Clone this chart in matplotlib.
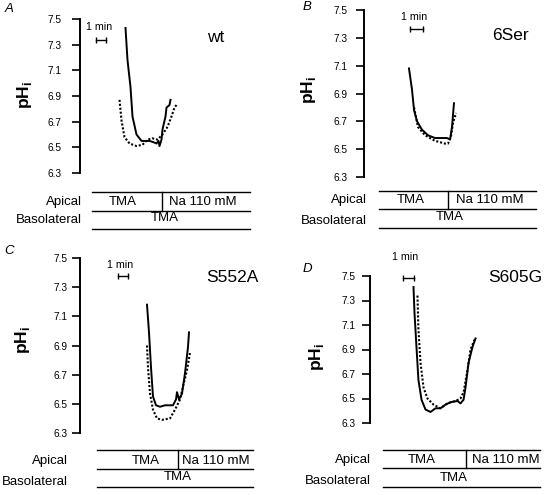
import matplotlib
matplotlib.use("Agg")
import matplotlib.pyplot as plt
from matplotlib.lines import Line2D

plt.rcParams['font.family'] = ['Liberation Sans', 'DejaVu Sans']
plt.rcParams['mathtext.fontset'] = 'custom'
plt.rcParams['mathtext.rm'] = 'Liberation Sans'
plt.rcParams['mathtext.bf'] = 'Liberation Sans:bold'

W, H = 546, 495

# ---------------- data (time in min, pHi) ----------------
panel_letters = ["A", "B", "C", "D"]
constructs = ["wt", "6Ser", "S552A", "S605G"]
yticks = [6.3, 6.5, 6.7, 6.9, 7.1, 7.3, 7.5]
ytick_labels = ["6.3", "6.5", "6.7", "6.9", "7.1", "7.3", "7.5"]
apical_solutions = ["TMA", "Na 110 mM"]
basolateral_solution = "TMA"
row_labels = ["Apical", "Basolateral"]
scale_label = "1 min"

wt_solid_t = [4.6, 4.8, 5.1, 5.3, 5.7, 6.2, 7.0, 7.4, 7.7, 7.9, 8.0, 8.2, 8.3, 8.6, 8.7, 9.0, 9.1]
wt_solid_ph = [7.43, 7.18, 6.97, 6.74, 6.60, 6.55, 6.55, 6.54, 6.53, 6.55, 6.51, 6.56, 6.64, 6.74, 6.81, 6.83, 6.87]
wt_dash_t = [4.0, 4.2, 4.5, 5.0, 5.7, 6.3, 6.8, 7.3, 7.8, 8.3, 8.8, 9.2, 9.5, 9.7]
wt_dash_ph = [6.87, 6.71, 6.58, 6.53, 6.51, 6.52, 6.56, 6.57, 6.56, 6.60, 6.66, 6.74, 6.81, 6.83]

ser_solid_t = [3.46, 3.69, 3.85, 4.08, 4.46, 4.92, 5.46, 6.38, 6.62, 6.77, 6.92]
ser_solid_ph = [7.08, 6.93, 6.78, 6.70, 6.64, 6.60, 6.58, 6.58, 6.57, 6.66, 6.83]
ser_dash_t = [3.85, 4.15, 4.69, 5.46, 6.23, 6.46, 6.69, 6.85, 7.08]
ser_dash_ph = [6.80, 6.66, 6.60, 6.56, 6.54, 6.54, 6.59, 6.69, 6.76]

s552_solid_t = [6.7, 6.9, 7.1, 7.3, 7.6, 8.0, 8.5, 9.3, 9.6, 9.7, 9.9, 10.2, 10.5, 10.8, 10.9]
s552_solid_ph = [7.18, 6.99, 6.75, 6.55, 6.49, 6.48, 6.49, 6.49, 6.53, 6.58, 6.53, 6.57, 6.71, 6.89, 6.99]
s552_dash_t = [6.7, 6.8, 7.0, 7.3, 7.7, 8.2, 9.0, 9.5, 10.0, 10.3, 10.7, 11.0]
s552_dash_ph = [6.90, 6.75, 6.57, 6.46, 6.40, 6.39, 6.40, 6.46, 6.53, 6.62, 6.73, 6.85]

s605_solid_t = [4.0, 4.09, 4.27, 4.45, 4.73, 5.09, 5.55, 6.0, 6.45, 6.91, 7.36, 8.0, 8.27, 8.55, 8.73, 9.0, 9.36, 9.64]
s605_solid_ph = [7.41, 7.20, 6.92, 6.65, 6.49, 6.41, 6.39, 6.42, 6.42, 6.45, 6.47, 6.48, 6.46, 6.49, 6.59, 6.79, 6.92, 6.99]
s605_dash_t = [4.36, 4.45, 4.64, 4.91, 5.27, 5.82, 6.45, 7.09, 7.82, 8.27, 8.55, 8.91, 9.18, 9.55]
s605_dash_ph = [7.34, 7.06, 6.79, 6.59, 6.50, 6.45, 6.42, 6.46, 6.48, 6.50, 6.55, 6.73, 6.90, 6.98]

series = [
    (wt_solid_t, wt_solid_ph, wt_dash_t, wt_dash_ph),
    (ser_solid_t, ser_solid_ph, ser_dash_t, ser_dash_ph),
    (s552_solid_t, s552_solid_ph, s552_dash_t, s552_dash_ph),
    (s605_solid_t, s605_solid_ph, s605_dash_t, s605_dash_ph),
]
scale_bar_start = [1.65, 3.55, 3.8, 3.0]   # min
scale_bar_ph = [7.34, 7.36, 7.38, 7.48]

# ---------------- layout (pixels) ----------------
layout = [
    # spine_x, y_top(7.5), y_bot(6.3), px_per_min, tick_pad_px
    dict(sx=79.5, yt=19, yb=173, ppm=10, pad=10,
         letter=(5, 9), title=(215.5, 38), ylab=(25, 95), smin=(99, 27),
         lines=(192, 211, 229), lx=(92, 250), div=162, rowx=82, rowy=(202, 220),
         txt_top=(123, 203), txt_bot=(165, 218)),
    dict(sx=364, yt=10, yb=177, ppm=13, pad=8,
         letter=(303, 7), title=(510, 35), ylab=(309, 90), smin=(414, 17),
         lines=(191, 209, 228), lx=(379, 536), div=448, rowx=367, rowy=(200, 221),
         txt_top=(411, 490), txt_bot=(450, 217)),
    dict(sx=80, yt=258, yb=433, ppm=10, pad=4,
         letter=(4, 251), title=(232, 278), ylab=(22, 340), smin=(120, 265),
         lines=(450, 469, 487), lx=(97, 253), div=178, rowx=68, rowy=(461, 482),
         txt_top=(145.5, 216), txt_bot=(177.5, 477)),
    dict(sx=369.5, yt=276, yb=423, ppm=11, pad=6,
         letter=(303, 269), title=(515, 277), ylab=(317, 357), smin=(405, 257),
         lines=(450, 468, 487), lx=(383, 540), div=466, rowx=371, rowy=(460, 481),
         txt_top=(422, 506), txt_bot=(454, 478)),
]

fig = plt.figure(figsize=(W / 100, H / 100), dpi=100)


def fx(x):
    return x / W


def fy(y):
    return 1 - y / H


def hline(x0, x1, y, lw=1.0):
    fig.add_artist(Line2D([fx(x0), fx(x1)], [fy(y), fy(y)], color='black', lw=lw,
                          transform=fig.transFigure))


def vline(x, y0, y1, lw=1.0):
    fig.add_artist(Line2D([fx(x), fx(x)], [fy(y0), fy(y1)], color='black', lw=lw,
                          transform=fig.transFigure))


AX_W = 180
for i, L in enumerate(layout):
    ax = fig.add_axes([fx(L['sx']), fy(L['yb']), AX_W / W, (L['yb'] - L['yt']) / H])
    ax.set_facecolor('none')
    ax.set_ylim(6.3, 7.5)
    ax.set_xlim(0, AX_W / L['ppm'])
    for s in ['top', 'right', 'bottom']:
        ax.spines[s].set_visible(False)
    ax.spines['left'].set_linewidth(1.4)
    ax.set_xticks([])
    ax.set_yticks(yticks)
    ax.set_yticklabels(ytick_labels, fontsize=7.3)
    ax.tick_params(axis='y', direction='out', length=6, width=1.2, pad=L['pad'] * 0.72)

    st, sp, dt, dp = series[i]
    ax.plot(st, sp, color='black', lw=1.4, solid_joinstyle='round', clip_on=False)
    ax.plot(dt, dp, color='black', lw=1.5, linestyle=(0, (1.0, 0.9)), clip_on=False)

    # 1-min scale bar
    t0 = scale_bar_start[i]
    ax.plot([t0, t0 + 1], [scale_bar_ph[i]] * 2, color='black', lw=1.0,
            marker='|', markersize=4, markeredgewidth=1.0, clip_on=False)
    fig.text(fx(L['smin'][0]), fy(L['smin'][1]), scale_label, fontsize=7.7,
             ha='center', va='center')

    # panel letter, construct name, y label
    fig.text(fx(L['letter'][0]), fy(L['letter'][1]), panel_letters[i], fontsize=9.5,
             style='italic', ha='left', va='center')
    fig.text(fx(L['title'][0]), fy(L['title'][1]), constructs[i], fontsize=12.5,
             ha='center', va='center')
    fig.text(fx(L['ylab'][0]), fy(L['ylab'][1]), r'pH$_\mathbf{i}$', fontsize=12.5,
             fontweight='bold', rotation=90, ha='center', va='center')

    # solution table
    y1, y2, y3 = L['lines']
    x0, x1 = L['lx']
    for yy in (y1, y2, y3):
        hline(x0, x1, yy)
    vline(L['div'], y1, y2)
    fig.text(fx(L['rowx']), fy(L['rowy'][0]), row_labels[0], fontsize=9.5,
             ha='right', va='center')
    fig.text(fx(L['rowx']), fy(L['rowy'][1]), row_labels[1], fontsize=9.5,
             ha='right', va='center')
    fig.text(fx(L['txt_top'][0]), fy(L['rowy'][0]), apical_solutions[0], fontsize=9.5,
             ha='center', va='center')
    fig.text(fx(L['txt_top'][1]), fy(L['rowy'][0]), apical_solutions[1], fontsize=9.5,
             ha='center', va='center')
    fig.text(fx(L['txt_bot'][0]), fy(L['txt_bot'][1]), basolateral_solution, fontsize=9.5,
             ha='center', va='center')

fig.savefig('out.png', dpi=100)
